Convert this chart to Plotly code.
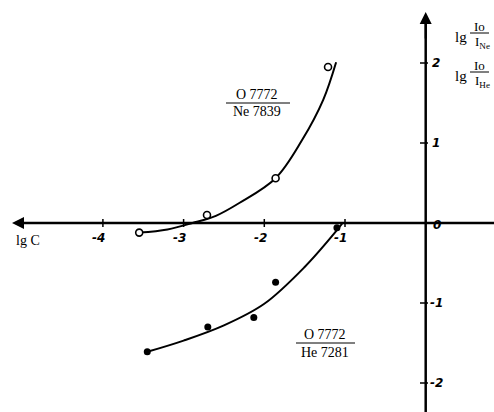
import plotly.graph_objects as go

# ---- data ----
ne_x = [-3.55, -2.71, -1.86, -1.21]
ne_y = [-0.12, 0.10, 0.56, 1.95]
ne_curve_x = [-3.55, -3.2, -2.89, -2.6, -2.31, -1.86, -1.53, -1.27, -1.11]
ne_curve_y = [-0.12, -0.08, 0.0, 0.09, 0.25, 0.56, 1.04, 1.54, 2.01]

he_x = [-3.45, -2.70, -2.13, -1.86, -1.10]
he_y = [-1.61, -1.30, -1.18, -0.74, -0.06]
he_curve_x = [-3.45, -3.0, -2.5, -2.0, -1.5, -1.10, -1.03]
he_curve_y = [-1.61, -1.47, -1.28, -1.01, -0.55, -0.09, 0.0]

x_ticks = [-4, -3, -2, -1]
x_tick_labels = ["-4", "-3", "-2", "-1"]
y_ticks = [2, 1, -1, -2]
y_tick_labels = ["2", "1", "-1", "-2"]

W, H = 494, 412
X0PX, XSC = 425.7, 80.7
Y0PX, YSC = 223.0, 80.0
def dx(px):
    return (px - X0PX) / XSC
def dy(py):
    return (Y0PX - py) / YSC

fig = go.Figure()
fig.add_trace(go.Scatter(x=ne_curve_x, y=ne_curve_y, mode="lines",
                         line=dict(color="black", width=2, shape="spline")))
fig.add_trace(go.Scatter(x=ne_x, y=ne_y, mode="markers",
                         marker=dict(symbol="circle", size=7, color="white",
                                     line=dict(color="black", width=1.6))))
fig.add_trace(go.Scatter(x=he_curve_x, y=he_curve_y, mode="lines",
                         line=dict(color="black", width=2, shape="spline")))
fig.add_trace(go.Scatter(x=he_x, y=he_y, mode="markers",
                         marker=dict(symbol="circle", size=7, color="black")))

shapes = []
# axes
shapes.append(dict(type="line", xref="x", yref="y", x0=dx(16), x1=dx(494), y0=0, y1=0,
                   line=dict(color="black", width=2.5)))
shapes.append(dict(type="line", xref="x", yref="y", x0=0, x1=0, y0=dy(16), y1=dy(412),
                   line=dict(color="black", width=2.5)))
for v in x_ticks:
    shapes.append(dict(type="line", xref="x", yref="y", x0=v, x1=v, y0=dy(219), y1=dy(227),
                       line=dict(color="black", width=1.5)))
for v in y_ticks:
    shapes.append(dict(type="line", xref="x", yref="y", x0=dx(420), x1=dx(428), y0=v, y1=v,
                       line=dict(color="black", width=1.5)))
# fraction bars
shapes.append(dict(type="line", xref="x", yref="y", x0=dx(226), x1=dx(290), y0=dy(103), y1=dy(103),
                   line=dict(color="black", width=1)))
shapes.append(dict(type="line", xref="x", yref="y", x0=dx(296), x1=dx(355), y0=dy(343), y1=dy(343),
                   line=dict(color="black", width=1)))
shapes.append(dict(type="line", xref="x", yref="y", x0=dx(470), x1=dx(489), y0=dy(33), y1=dy(33),
                   line=dict(color="black", width=1)))
shapes.append(dict(type="line", xref="x", yref="y", x0=dx(470), x1=dx(489), y0=dy(72), y1=dy(72),
                   line=dict(color="black", width=1)))

ann = []
# arrow heads
ann.append(dict(x=dx(12), y=0, ax=dx(40), ay=0, xref="x", yref="y", axref="x", ayref="y",
                showarrow=True, arrowhead=2, arrowsize=1.2, arrowwidth=2, arrowcolor="black", text=""))
ann.append(dict(x=0, y=dy(12), ax=0, ay=dy(40), xref="x", yref="y", axref="x", ayref="y",
                showarrow=True, arrowhead=2, arrowsize=1.2, arrowwidth=2, arrowcolor="black", text=""))

tick_font = dict(family="DejaVu Sans", size=12, color="black")
for v, t in zip(x_ticks, x_tick_labels):
    ann.append(dict(x=v - 0.05, y=dy(238), text="<b><i>" + t + "</i></b>", showarrow=False,
                    xref="x", yref="y", font=tick_font))
ann.append(dict(x=dx(437), y=dy(225), text="<b><i>0</i></b>", showarrow=False, xref="x", yref="y", font=tick_font))
for v, t in zip(y_ticks, y_tick_labels):
    ann.append(dict(x=dx(436), y=v, text="<b><i>" + t + "</i></b>", showarrow=False,
                    xref="x", yref="y", font=tick_font))

serif = dict(family="Liberation Serif", size=14, color="black")
lgf = dict(family="Liberation Serif", size=15, color="black")
small = dict(family="Liberation Serif", size=13, color="black")
ann.append(dict(x=dx(28), y=dy(240), text="lg C", showarrow=False, xref="x", yref="y", font=serif))
ann.append(dict(x=dx(257), y=dy(94), text="O 7772", showarrow=False, xref="x", yref="y", font=serif))
ann.append(dict(x=dx(257), y=dy(111), text="Ne 7839", showarrow=False, xref="x", yref="y", font=serif))
ann.append(dict(x=dx(325), y=dy(334), text="O 7772", showarrow=False, xref="x", yref="y", font=serif))
ann.append(dict(x=dx(325), y=dy(352), text="He 7281", showarrow=False, xref="x", yref="y", font=serif))
# y-axis labels
for ytop, sub in [(33, "Ne"), (72, "He")]:
    ann.append(dict(x=dx(461), y=dy(ytop + 4), text="lg", showarrow=False, xref="x", yref="y", font=lgf))
    ann.append(dict(x=dx(479), y=dy(ytop - 7), text="Io", showarrow=False, xref="x", yref="y", font=small))
    ann.append(dict(x=dx(482), y=dy(ytop + 9), text="I<sub>" + sub + "</sub>", showarrow=False,
                    xref="x", yref="y", font=small))

fig.update_layout(
    width=W, height=H, margin=dict(l=0, r=0, t=0, b=0),
    paper_bgcolor="white", plot_bgcolor="white", showlegend=False,
    xaxis=dict(range=[dx(0), dx(W)], visible=False, fixedrange=True),
    yaxis=dict(range=[dy(H), dy(0)], visible=False, fixedrange=True),
    shapes=shapes, annotations=ann,
)
fig.write_html("out.html", config={"displayModeBar": False},
               post_script="document.body.style.margin='0';")
